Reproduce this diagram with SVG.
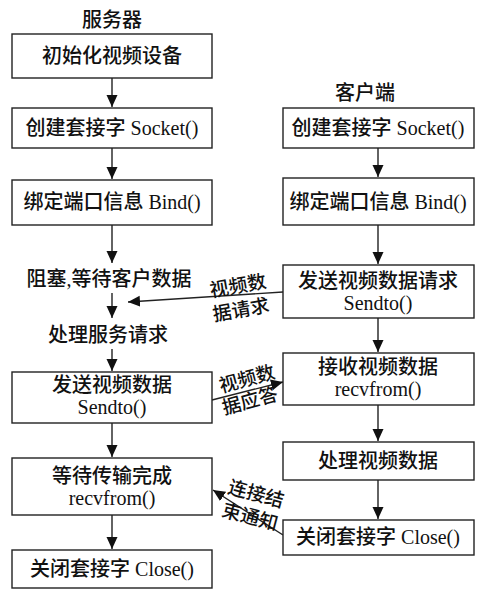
<svg xmlns="http://www.w3.org/2000/svg" width="483" height="590" viewBox="0 0 483 590">
<style>
text{font-family:"Liberation Serif","Noto Sans CJK SC",serif;font-size:20px;font-weight:500;fill:#111;text-anchor:middle;dominant-baseline:central}
.box{fill:#fff;stroke:#222;stroke-width:1.4}
.ln{stroke:#222;stroke-width:1.4;fill:none;marker-end:url(#ah)}
.lbl{font-size:19px}
</style>
<defs>
<marker id="ah" markerWidth="13" markerHeight="12" refX="12" refY="5.5" orient="auto" markerUnits="userSpaceOnUse">
<path d="M0,0 L12,5.5 L0,11 Z" fill="#111"/>
</marker>
</defs>
<rect width="483" height="590" fill="#fff"/>
<g id="connectors">
<line class="ln" x1="112" y1="78" x2="112" y2="107"/>
<line class="ln" x1="112" y1="148" x2="112" y2="179"/>
<line class="ln" x1="112" y1="225" x2="112" y2="263"/>
<line class="ln" x1="112" y1="293" x2="112" y2="318"/>
<line class="ln" x1="112" y1="349" x2="112" y2="371"/>
<line class="ln" x1="112" y1="423" x2="112" y2="457"/>
<line class="ln" x1="112" y1="515" x2="112" y2="549"/>
<line class="ln" x1="378" y1="148" x2="378" y2="177"/>
<line class="ln" x1="378" y1="225" x2="378" y2="264"/>
<line class="ln" x1="378" y1="318" x2="378" y2="352"/>
<line class="ln" x1="378" y1="405" x2="378" y2="441"/>
<line class="ln" x1="378" y1="480" x2="378" y2="519"/>
<line class="ln" x1="283" y1="292" x2="128" y2="302"/>
<line class="ln" x1="212" y1="400" x2="283" y2="382"/>
<line class="ln" x1="283" y1="535" x2="213" y2="490"/>
<text class="lbl" transform="translate(238,286) rotate(-10)">视频数</text>
<text class="lbl" transform="translate(241,310) rotate(-10)">据请求</text>
<text class="lbl" transform="translate(247,379) rotate(-15)">视频数</text>
<text class="lbl" transform="translate(250,401) rotate(-15)">据应答</text>
<text class="lbl" transform="translate(256,494) rotate(15)">连接结</text>
<text class="lbl" transform="translate(250,517) rotate(15)">束通知</text>
</g>
<g id="title-server"><text x="112" y="20">服务器</text></g>
<g id="title-client"><text x="365" y="93">客户端</text></g>
<g id="s1"><rect class="box" x="12" y="34" width="200" height="44"/><text x="112" y="56">初始化视频设备</text></g>
<g id="s2"><rect class="box" x="12" y="108" width="200" height="40"/><text x="112" y="128">创建套接字 Socket()</text></g>
<g id="s3"><rect class="box" x="12" y="180" width="200" height="45"/><text x="112" y="202">绑定端口信息 Bind()</text></g>
<g id="s4"><text x="109" y="279">阻塞,等待客户数据</text></g>
<g id="s5"><text x="108" y="335">处理服务请求</text></g>
<g id="s6"><rect class="box" x="12" y="372" width="200" height="51"/><text x="112" y="385">发送视频数据</text><text x="112" y="407">Sendto()</text></g>
<g id="s7"><rect class="box" x="12" y="458" width="200" height="57"/><text x="112" y="476">等待传输完成</text><text x="112" y="498">recvfrom()</text></g>
<g id="s8"><rect class="box" x="12" y="550" width="200" height="38"/><text x="112" y="569">关闭套接字 Close()</text></g>
<g id="c1"><rect class="box" x="283" y="108" width="191" height="40"/><text x="378" y="128">创建套接字 Socket()</text></g>
<g id="c2"><rect class="box" x="283" y="178" width="191" height="47"/><text x="378" y="202">绑定端口信息 Bind()</text></g>
<g id="c3"><rect class="box" x="283" y="265" width="191" height="53"/><text x="378" y="281">发送视频数据请求</text><text x="378" y="303">Sendto()</text></g>
<g id="c4"><rect class="box" x="283" y="353" width="191" height="52"/><text x="378" y="367">接收视频数据</text><text x="378" y="389">recvfrom()</text></g>
<g id="c5"><rect class="box" x="283" y="442" width="191" height="38"/><text x="378" y="461">处理视频数据</text></g>
<g id="c6"><rect class="box" x="283" y="520" width="191" height="35"/><text x="378" y="537">关闭套接字 Close()</text></g>
</svg>
